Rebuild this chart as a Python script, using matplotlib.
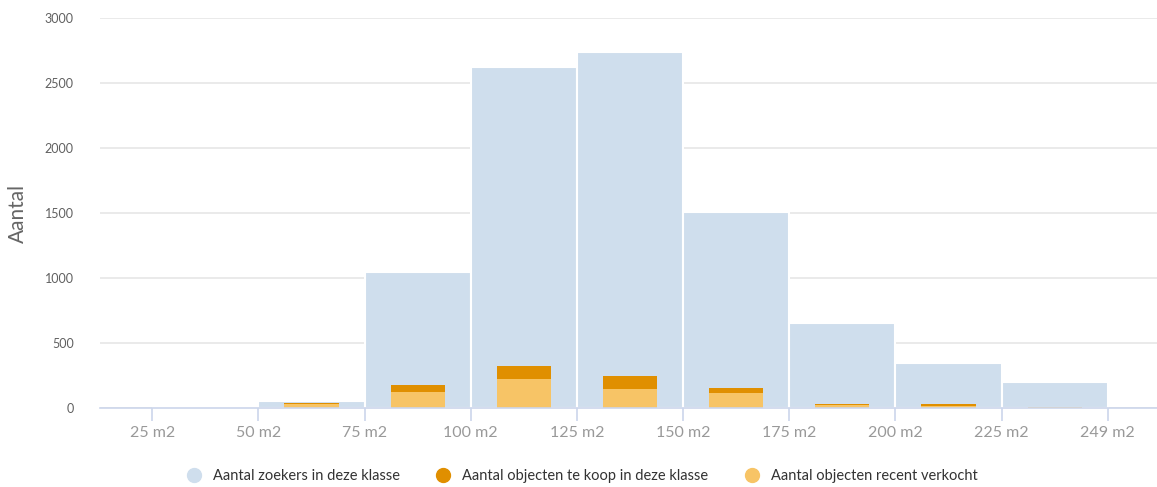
import matplotlib
matplotlib.use("Agg")
import matplotlib.pyplot as plt
from matplotlib.lines import Line2D
import numpy as np

# ---- data ----
tick_labels = ["25 m2", "50 m2", "75 m2", "100 m2", "125 m2", "150 m2",
               "175 m2", "200 m2", "225 m2", "249 m2"]
# bins between consecutive tick labels (25-50, 50-75, ..., 225-249)
zoekers = [0, 55, 1045, 2625, 2740, 1510, 655, 345, 200]
te_koop = [0, 8, 51, 100, 98, 38, 10, 12, 2]
verkocht = [0, 35, 128, 225, 148, 120, 23, 20, 10]

series_names = ["Aantal zoekers in deze klasse",
                "Aantal objecten te koop in deze klasse",
                "Aantal objecten recent verkocht"]
c_blue = "#cfdeed"
c_dark = "#e08f00"
c_light = "#f7c466"

plt.rcParams['font.family'] = ['Lato', 'DejaVu Sans']

W, H = 1157, 487
fig = plt.figure(figsize=(W / 100, H / 100), dpi=100)
left_px, right_px = 100, 1157
top_px, bot_px = 18.3, 408.3
ax = fig.add_axes([left_px / W, 1 - bot_px / H, (right_px - left_px) / W, (bot_px - top_px) / H])

centers = np.arange(len(zoekers)) + 0.5
ax.bar(centers, zoekers, width=1.0, color=c_blue, edgecolor="white", linewidth=1.5, zorder=2)
ax.bar(centers, verkocht, width=0.51, color=c_light, linewidth=0, zorder=3)
ax.bar(centers, te_koop, width=0.51, bottom=verkocht, color=c_dark, linewidth=0, zorder=3)

ax.set_xlim(-0.493, 9.464)
ax.set_ylim(0, 3000)
ax.set_xticks(np.arange(len(tick_labels)))
ax.set_xticklabels(tick_labels)
ax.set_yticks(np.arange(0, 3001, 500))

for s in ["top", "right", "left"]:
    ax.spines[s].set_visible(False)
ax.spines["bottom"].set_color("#ccd6eb")
ax.spines["bottom"].set_linewidth(1.2)
ax.spines["bottom"].set_zorder(4)

ax.yaxis.grid(True, color="#e6e6e6", linewidth=1.2, zorder=0)
ax.set_axisbelow(True)
ax.tick_params(axis="y", length=0, pad=19, labelsize=9, labelcolor="#606060")
ax.tick_params(axis="x", length=9, width=1.2, color="#ccd6eb", pad=4,
               labelsize=11.5, labelcolor="#999999")
for lab in ax.get_yticklabels():
    lab.set_horizontalalignment("right")

ax.set_ylabel("Aantal", fontsize=15, color="#666666", labelpad=12)

handles = [Line2D([], [], marker="o", linestyle="none", markersize=10, color=c)
           for c in (c_blue, c_dark, c_light)]
fig.legend(handles, series_names, loc="center", bbox_to_anchor=(0.5, 1 - 476 / H),
           ncol=3, frameon=False, fontsize=10.5, handletextpad=0.3, columnspacing=2.0,
           labelcolor="#333333")

fig.savefig("out.png", dpi=100)
